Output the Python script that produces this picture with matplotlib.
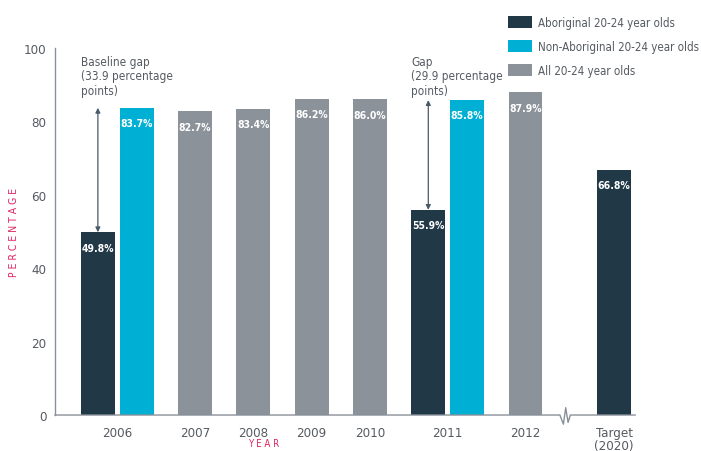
import numpy as np
import matplotlib.pyplot as plt
import matplotlib.transforms as mtransforms

# ================================
#  数据
# ================================
abor_years = ["2006", "2011", "Target\n(2020)"]
abor_vals = [49.8, 55.9, 66.8]

nonabor_years = ["2006", "2011"]
nonabor_vals = [83.7, 85.8]

all_years = ["2007", "2008", "2009", "2010", "2012"]
all_vals = [82.7, 83.4, 86.2, 86.0, 87.9]

tick_labels = ["2006", "2007", "2008", "2009", "2010", "2011", "2012", "Target\n(2020)"]

gap_years = ["2006", "2011"]
gap_text = ["Baseline gap\n(33.9 percentage\npoints)", "Gap\n(29.9 percentage\npoints)"]

# ================================
#  位置 (layout only)
# ================================
pair = 0.667
pos = {}
x = 0.0
for lab in tick_labels:
    if lab in nonabor_years:
        pos[lab] = (x, x + pair)
        x += pair + 1.0
    elif lab.startswith("Target"):
        x += 0.52
        pos[lab] = (x, x)
    else:
        pos[lab] = (x, x)
        x += 1.0

def abor_x(lab):
    return pos[lab][0]

def non_x(lab):
    return pos[lab][1]

c_dark = "#213847"
c_cyan = "#00b0d4"
c_gray = "#8b9299"
c_text = "#555b61"
c_red = "#e0245e"
w = 0.58

plt.rcParams.update({
    "font.family": "DejaVu Sans",
    "font.stretch": "condensed",
    "font.size": 9,
})

fig = plt.figure(figsize=(7.01, 4.52), dpi=100)
ax = fig.add_axes([0.0785, 0.0796, 0.8275, 0.812])

b1 = ax.bar([abor_x(l) for l in abor_years], abor_vals, width=w, color=c_dark,
            label="Aboriginal 20-24 year olds")
b2 = ax.bar([non_x(l) for l in nonabor_years], nonabor_vals, width=w, color=c_cyan,
            label="Non-Aboriginal 20-24 year olds")
b3 = ax.bar([abor_x(l) for l in all_years], all_vals, width=w, color=c_gray,
            label="All 20-24 year olds")

for bars in (b1, b2, b3):
    for r in bars:
        ax.text(r.get_x() + r.get_width() / 2, r.get_height() - 2.8,
                f"{r.get_height():.1f}%", ha="center", va="top",
                color="white", fontsize=7.5, fontweight="bold")

# gap arrows
for lab, txt in zip(gap_years, gap_text):
    xa = abor_x(lab)
    lo = abor_vals[abor_years.index(lab)]
    hi = nonabor_vals[nonabor_years.index(lab)]
    ax.annotate("", xy=(xa, hi), xytext=(xa, lo),
                arrowprops=dict(arrowstyle="<|-|>", color="#4a5a66", lw=0.9,
                                mutation_scale=7, shrinkA=0, shrinkB=0))
    ax.text(xa - w / 2, 98.2, txt, ha="left", va="top", color=c_text,
            fontsize=8.5, linespacing=1.17)

ax.set_xlim(-0.735, pos["Target\n(2020)"][0] + 0.36)
ax.set_ylim(0, 100)
ax.set_yticks([0, 20, 40, 60, 80, 100])
centers = [(pos[l][0] + pos[l][1]) / 2 for l in tick_labels]
ax.set_xticks(centers)
ax.set_xticklabels(tick_labels, color=c_text, fontsize=9, linespacing=1.0)
ax.tick_params(axis="both", length=0, colors=c_text, labelsize=9.5)
ax.tick_params(axis="x", pad=8)
ax.tick_params(axis="y", pad=6)

for s in ("top", "right", "bottom"):
    ax.spines[s].set_visible(False)
ax.spines["left"].set_color("#8a9099")
ax.spines["left"].set_linewidth(1.0)

# bottom axis with break
tr = mtransforms.blended_transform_factory(ax.transData, ax.transAxes)
xb = (pos["2012"][0] + pos["Target\n(2020)"][0]) / 2 - 0.05
xr = ax.get_xlim()
zx = [xr[0], xb - 0.12, xb - 0.06, xb - 0.02, xb + 0.02, xb + 0.06, xb + 0.12, xr[1]]
zy = [0, 0, -0.025, 0.02, -0.02, 0.0, 0, 0]
ax.plot(zx, zy, transform=tr, color="#8a9099", lw=1.0, clip_on=False)

ax.set_ylabel("P E R C E N T A G E", color=c_red, fontsize=7.5)
ax.yaxis.set_label_coords(-0.062, 0.5)
ax.set_xlabel("Y E A R", color=c_red, fontsize=7)
ax.xaxis.set_label_coords(0.36, -0.063)

leg = ax.legend(loc="upper left", bbox_to_anchor=(508 / 701, 1 - 17 / 452),
                bbox_transform=fig.transFigure, frameon=False, fontsize=8.3,
                handlelength=2.08, handleheight=1.15, labelspacing=0.95,
                handletextpad=0.55, borderpad=0, borderaxespad=0)
for t in leg.get_texts():
    t.set_color(c_text)

fig.savefig("out.png", dpi=100)
